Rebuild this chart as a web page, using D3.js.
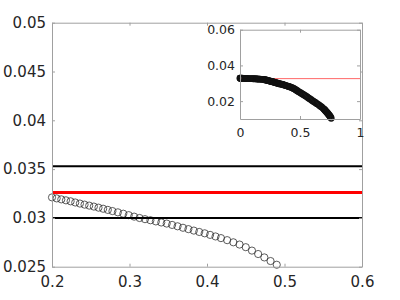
<!DOCTYPE html>
<style>
    body { margin: 0; background: #fff; }
    text { font-family: "DejaVu Sans", sans-serif; fill: #262626; }
    .axis .domain { stroke: #a0a0a0; }
    .axis line { stroke: #a0a0a0; }
</style>
<svg width="400" height="300"></svg>
<script src="https://d3js.org/d3.v7.min.js"></script>
<script>
    // curve samples (x, y)
    var xs = [0, 0.002, 0.005, 0.01, 0.02, 0.03, 0.04, 0.05, 0.06, 0.07, 0.08, 0.09, 0.10, 0.11, 0.12, 0.13, 0.14, 0.15, 0.16, 0.17, 0.18, 0.19,
        0.200, 0.206, 0.212, 0.218, 0.224, 0.230, 0.236, 0.242, 0.248, 0.254, 0.260, 0.266, 0.272, 0.278, 0.285, 0.292, 0.299, 0.306, 0.313, 0.320,
        0.327, 0.334, 0.341, 0.348, 0.355, 0.362, 0.369, 0.376, 0.383, 0.390, 0.397, 0.404, 0.411, 0.418, 0.426, 0.434, 0.442, 0.450, 0.458, 0.466,
        0.474, 0.482, 0.490,
        0.50, 0.51, 0.52, 0.53, 0.54, 0.55, 0.56, 0.57, 0.58, 0.59, 0.60, 0.61, 0.62, 0.63, 0.64, 0.65, 0.66, 0.67, 0.68, 0.69,
        0.70, 0.705, 0.71, 0.715, 0.72, 0.725, 0.73, 0.735, 0.74, 0.745, 0.75, 0.755, 0.76];
    var ys = [0.0328, 0.0328, 0.0328, 0.0328, 0.0328, 0.0327, 0.0327, 0.0327, 0.0327, 0.0326, 0.0326, 0.0326, 0.0326, 0.0325, 0.0325, 0.0325, 0.0324, 0.0324, 0.0323, 0.0323, 0.0322, 0.0322,
        0.03210, 0.03200, 0.03190, 0.03180, 0.03170, 0.03158, 0.03147, 0.03136, 0.03126, 0.03116, 0.03105, 0.03094, 0.03082, 0.03070, 0.03057, 0.03043, 0.03028, 0.03013, 0.02999, 0.02987,
        0.02976, 0.02964, 0.02953, 0.02942, 0.02928, 0.02914, 0.02899, 0.02885, 0.02870, 0.02856, 0.02842, 0.02826, 0.02810, 0.02793, 0.02772, 0.02750, 0.02727, 0.02700, 0.02665, 0.02630,
        0.02595, 0.02558, 0.02520,
        0.0248, 0.0244, 0.0240, 0.0236, 0.0232, 0.0228, 0.0223, 0.0218, 0.0213, 0.0209, 0.0204, 0.0200, 0.0195, 0.0191, 0.0186, 0.0182, 0.0177, 0.0172, 0.0167, 0.0161,
        0.0155, 0.0152, 0.0148, 0.0144, 0.0140, 0.0136, 0.0132, 0.0128, 0.0124, 0.0120, 0.0115, 0.0110, 0.0104];

    // horizontal reference levels
    var blackLevels = [0.0353, 0.0300];
    var redLevel = 0.0326;

    // ticks
    var xTicks = [0.2, 0.3, 0.4, 0.5, 0.6];
    var xTickLabels = ["0.2", "0.3", "0.4", "0.5", "0.6"];
    var yTicks = [0.025, 0.03, 0.035, 0.04, 0.045, 0.05];
    var yTickLabels = ["0.025", "0.03", "0.035", "0.04", "0.045", "0.05"];
    var inXTicks = [0, 0.5, 1];
    var inXTickLabels = ["0", "0.5", "1"];
    var inYTicks = [0.02, 0.04, 0.06];
    var inYTickLabels = ["0.02", "0.04", "0.06"];

    var pts = xs.map(function (d, i) { return {x: d, y: ys[i]}; });

    var svg = d3.select("svg");

    var x = d3.scaleLinear().domain([0.2, 0.6]).range([52, 362]);
    var y = d3.scaleLinear().domain([0.025, 0.05]).range([266.7, 22.7]);

    function drawAxes(g, xs_, ys_, xt, xl, yt, yl, fs, xpad, ypad) {
        var r = xs_.range(), rr = ys_.range();
        g.append("g").attr("class", "axis").attr("transform", "translate(0," + rr[0] + ")")
            .call(d3.axisBottom(xs_).tickValues(xt).tickSizeInner(-3).tickSizeOuter(0).tickPadding(xpad)
                .tickFormat(function (d, i) { return xl[i]; }))
            .selectAll("text").style("font-size", fs + "px");
        g.append("g").attr("class", "axis").attr("transform", "translate(0," + rr[1] + ")")
            .call(d3.axisTop(xs_).tickValues(xt).tickSizeInner(-3).tickSizeOuter(0).tickFormat(""));
        g.append("g").attr("class", "axis").attr("transform", "translate(" + r[0] + ",0)")
            .call(d3.axisLeft(ys_).tickValues(yt).tickSizeInner(-3).tickSizeOuter(0).tickPadding(ypad)
                .tickFormat(function (d, i) { return yl[i]; }))
            .selectAll("text").style("font-size", fs + "px");
        g.append("g").attr("class", "axis").attr("transform", "translate(" + r[1] + ",0)")
            .call(d3.axisRight(ys_).tickValues(yt).tickSizeInner(-3).tickSizeOuter(0).tickFormat(""));
        g.selectAll(".axis text").attr("font-family", null);
    }

    // main plot
    var main = svg.append("g");
    main.selectAll("circle")
        .data(pts.filter(function (d) { return d.x >= 0.2 && d.x <= 0.6 && d.y >= 0.025 && d.y <= 0.05; }))
        .enter().append("circle")
        .attr("cx", function (d) { return x(d.x); })
        .attr("cy", function (d) { return y(d.y); })
        .attr("r", 3.6)
        .attr("fill", "none")
        .attr("stroke", "#333")
        .attr("stroke-width", 0.8);

    main.selectAll(".blk").data(blackLevels).enter().append("line")
        .attr("x1", x(0.2)).attr("x2", x(0.6))
        .attr("y1", function (d) { return y(d); }).attr("y2", function (d) { return y(d); })
        .attr("stroke", "#000").attr("stroke-width", 2);
    main.append("line")
        .attr("x1", x(0.2)).attr("x2", x(0.6))
        .attr("y1", y(redLevel)).attr("y2", y(redLevel))
        .attr("stroke", "#f00").attr("stroke-width", 3.2);

    drawAxes(main, x, y, xTicks, xTickLabels, yTicks, yTickLabels, 15, 10, 6);

    // inset
    var ix = d3.scaleLinear().domain([0, 1]).range([240, 360]);
    var iy = d3.scaleLinear().domain([0.01, 0.06]).range([119, 29.7]);
    var inset = svg.append("g");
    inset.append("rect").attr("x", 240).attr("y", 29.7).attr("width", 120).attr("height", 119 - 29.7).attr("fill", "#fff");
    inset.append("line")
        .attr("x1", ix(0)).attr("x2", ix(1))
        .attr("y1", iy(redLevel)).attr("y2", iy(redLevel))
        .attr("stroke", "#f66").attr("stroke-width", 1);
    inset.selectAll("circle").data(pts).enter().append("circle")
        .attr("cx", function (d) { return ix(d.x); })
        .attr("cy", function (d) { return iy(d.y); })
        .attr("r", 2.8)
        .attr("fill", "none")
        .attr("stroke", "#111")
        .attr("stroke-width", 1.3);

    drawAxes(inset, ix, iy, inXTicks, inXTickLabels, inYTicks, inYTickLabels, 12.5, 9, 5);
</script>
